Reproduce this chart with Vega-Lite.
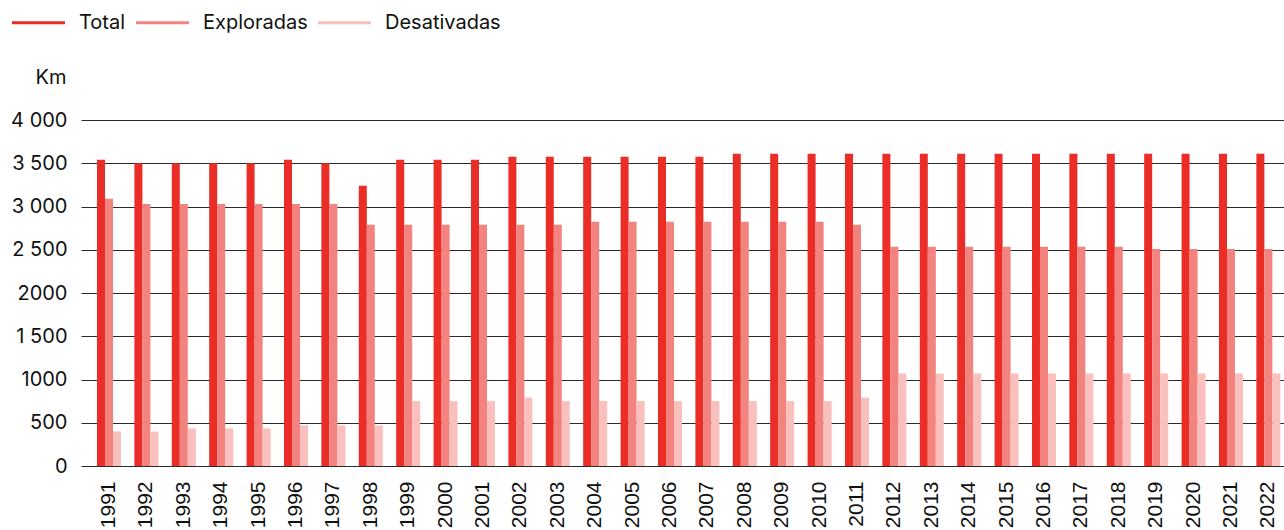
{
  "$schema": "https://vega.github.io/schema/vega-lite/v6.json",
  "autosize": {"type": "none"},
  "padding": {"left": 81, "top": 120, "right": 0, "bottom": 64},
  "width": 1203,
  "height": 346,
  "background": "white",
  "data": {"values": [
    {"ano":"1991","serie":"Total","km":3540},{"ano":"1991","serie":"Exploradas","km":3090},{"ano":"1991","serie":"Desativadas","km":400},
    {"ano":"1992","serie":"Total","km":3500},{"ano":"1992","serie":"Exploradas","km":3030},{"ano":"1992","serie":"Desativadas","km":400},
    {"ano":"1993","serie":"Total","km":3500},{"ano":"1993","serie":"Exploradas","km":3030},{"ano":"1993","serie":"Desativadas","km":435},
    {"ano":"1994","serie":"Total","km":3500},{"ano":"1994","serie":"Exploradas","km":3030},{"ano":"1994","serie":"Desativadas","km":435},
    {"ano":"1995","serie":"Total","km":3500},{"ano":"1995","serie":"Exploradas","km":3030},{"ano":"1995","serie":"Desativadas","km":435},
    {"ano":"1996","serie":"Total","km":3540},{"ano":"1996","serie":"Exploradas","km":3030},{"ano":"1996","serie":"Desativadas","km":470},
    {"ano":"1997","serie":"Total","km":3500},{"ano":"1997","serie":"Exploradas","km":3030},{"ano":"1997","serie":"Desativadas","km":470},
    {"ano":"1998","serie":"Total","km":3240},{"ano":"1998","serie":"Exploradas","km":2790},{"ano":"1998","serie":"Desativadas","km":470},
    {"ano":"1999","serie":"Total","km":3540},{"ano":"1999","serie":"Exploradas","km":2790},{"ano":"1999","serie":"Desativadas","km":750},
    {"ano":"2000","serie":"Total","km":3540},{"ano":"2000","serie":"Exploradas","km":2790},{"ano":"2000","serie":"Desativadas","km":750},
    {"ano":"2001","serie":"Total","km":3540},{"ano":"2001","serie":"Exploradas","km":2790},{"ano":"2001","serie":"Desativadas","km":750},
    {"ano":"2002","serie":"Total","km":3575},{"ano":"2002","serie":"Exploradas","km":2790},{"ano":"2002","serie":"Desativadas","km":790},
    {"ano":"2003","serie":"Total","km":3575},{"ano":"2003","serie":"Exploradas","km":2790},{"ano":"2003","serie":"Desativadas","km":750},
    {"ano":"2004","serie":"Total","km":3575},{"ano":"2004","serie":"Exploradas","km":2825},{"ano":"2004","serie":"Desativadas","km":750},
    {"ano":"2005","serie":"Total","km":3575},{"ano":"2005","serie":"Exploradas","km":2825},{"ano":"2005","serie":"Desativadas","km":750},
    {"ano":"2006","serie":"Total","km":3575},{"ano":"2006","serie":"Exploradas","km":2825},{"ano":"2006","serie":"Desativadas","km":750},
    {"ano":"2007","serie":"Total","km":3575},{"ano":"2007","serie":"Exploradas","km":2825},{"ano":"2007","serie":"Desativadas","km":750},
    {"ano":"2008","serie":"Total","km":3610},{"ano":"2008","serie":"Exploradas","km":2825},{"ano":"2008","serie":"Desativadas","km":750},
    {"ano":"2009","serie":"Total","km":3610},{"ano":"2009","serie":"Exploradas","km":2825},{"ano":"2009","serie":"Desativadas","km":750},
    {"ano":"2010","serie":"Total","km":3610},{"ano":"2010","serie":"Exploradas","km":2825},{"ano":"2010","serie":"Desativadas","km":750},
    {"ano":"2011","serie":"Total","km":3610},{"ano":"2011","serie":"Exploradas","km":2790},{"ano":"2011","serie":"Desativadas","km":790},
    {"ano":"2012","serie":"Total","km":3610},{"ano":"2012","serie":"Exploradas","km":2535},{"ano":"2012","serie":"Desativadas","km":1070},
    {"ano":"2013","serie":"Total","km":3610},{"ano":"2013","serie":"Exploradas","km":2535},{"ano":"2013","serie":"Desativadas","km":1070},
    {"ano":"2014","serie":"Total","km":3610},{"ano":"2014","serie":"Exploradas","km":2535},{"ano":"2014","serie":"Desativadas","km":1070},
    {"ano":"2015","serie":"Total","km":3610},{"ano":"2015","serie":"Exploradas","km":2535},{"ano":"2015","serie":"Desativadas","km":1070},
    {"ano":"2016","serie":"Total","km":3610},{"ano":"2016","serie":"Exploradas","km":2535},{"ano":"2016","serie":"Desativadas","km":1070},
    {"ano":"2017","serie":"Total","km":3610},{"ano":"2017","serie":"Exploradas","km":2535},{"ano":"2017","serie":"Desativadas","km":1070},
    {"ano":"2018","serie":"Total","km":3610},{"ano":"2018","serie":"Exploradas","km":2535},{"ano":"2018","serie":"Desativadas","km":1070},
    {"ano":"2019","serie":"Total","km":3610},{"ano":"2019","serie":"Exploradas","km":2510},{"ano":"2019","serie":"Desativadas","km":1070},
    {"ano":"2020","serie":"Total","km":3610},{"ano":"2020","serie":"Exploradas","km":2510},{"ano":"2020","serie":"Desativadas","km":1070},
    {"ano":"2021","serie":"Total","km":3610},{"ano":"2021","serie":"Exploradas","km":2510},{"ano":"2021","serie":"Desativadas","km":1070},
    {"ano":"2022","serie":"Total","km":3610},{"ano":"2022","serie":"Exploradas","km":2510},{"ano":"2022","serie":"Desativadas","km":1070}
  ]},
  "mark": {"type": "bar"},
  "encoding": {
    "x": {
      "field": "ano", "type": "nominal",
      "scale": {"paddingInner": 0.358, "paddingOuter": 0.262, "align": 0.816},
      "axis": {
        "title": null, "labelAngle": -90, "labelAlign": "right", "labelBaseline": "middle",
        "labelFont": "Liberation Sans", "labelFontSize": 21, "labelColor": "#111111",
        "labelPadding": 15, "ticks": false, "tickSize": 0, "domain": false, "grid": false
      }
    },
    "xOffset": {
      "field": "serie", "type": "nominal",
      "sort": ["Total", "Exploradas", "Desativadas"],
      "scale": {"paddingInner": 0, "paddingOuter": 0}
    },
    "y": {
      "field": "km", "type": "quantitative",
      "scale": {"domain": [0, 4000], "nice": false},
      "axis": {
        "values": [0, 500, 1000, 1500, 2000, 2500, 3000, 3500, 4000],
        "labelExpr": "datum.value == 1000 || datum.value == 2000 ? format(datum.value, 'd') : replace(format(datum.value, ','), ',', ' ')",
        "labelFont": "Inter", "labelFontSize": 20, "labelColor": "#111111", "labelPadding": 14,
        "ticks": false, "tickSize": 0, "domain": false,
        "grid": true, "gridColor": "#2b2b2b", "gridWidth": 1,
        "title": "Km", "titleAngle": 0, "titleAlign": "right", "titleBaseline": "middle",
        "titleX": -15, "titleY": -43, "titleFont": "Inter", "titleFontSize": 20,
        "titleFontWeight": "normal", "titleColor": "#111111"
      }
    },
    "color": {
      "field": "serie", "type": "nominal",
      "scale": {"domain": ["Total", "Exploradas", "Desativadas"], "range": ["#EA2D27", "#F2837E", "#F9C0BE"]},
      "legend": {
        "title": null, "orient": "none", "direction": "horizontal",
        "legendX": -69, "legendY": -124,
        "symbolType": "M-1,-0.06H1V0.06H-1Z", "symbolSize": 2809, "symbolStrokeWidth": 0,
        "labelFont": "Inter", "labelFontSize": 20, "labelColor": "#111111",
        "labelOffset": 14, "columnPadding": 10
      }
    }
  },
  "config": {"view": {"stroke": null}}
}
